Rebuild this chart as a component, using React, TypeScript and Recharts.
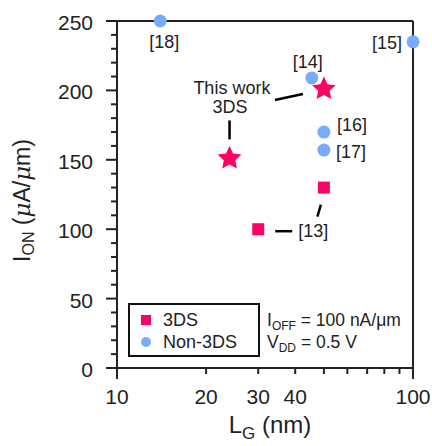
import { ScatterChart, Scatter, XAxis, YAxis, Legend, Label } from "recharts";

// gate length (nm) ticks, log axis
const lgTicks = [10, 20, 30, 40, 50, 60, 70, 80, 90, 100];
const lgLabels = [10, 20, 30, 40, 100];
// on-current ticks
const ionTicks = [0, 10, 20, 30, 40, 50, 60, 70, 80, 90, 100, 110, 120, 130, 140, 150, 160, 170, 180, 190, 200, 210, 220, 230, 240, 250];

// non-3DS literature points
const refLg = [14, 100, 45.5, 50, 50];
const refIon = [250, 235, 209, 170, 157];
const refNames = ["[18]", "[15]", "[14]", "[16]", "[17]"];

// 3DS literature points ([13])
const dsLg = [30, 50];
const dsIon = [100, 130];

// this work
const workLg = [24, 50];
const workIon = [151, 201];

const INK = "#222";
const PINK = "#ff0066";
const BLUE = "#78aaff";
const FONT = "'Liberation Sans', Arial, sans-serif";

const refPoints = refLg.map((lg, i) => ({ lg, ion: refIon[i], ref: refNames[i] }));
const dsPoints = dsLg.map((lg, i) => ({ lg, ion: dsIon[i], i }));
const workPoints = workLg.map((lg, i) => ({ lg, ion: workIon[i], i }));

// label placement, pixels from the marker
const refOffsets: Record<string, [number, number, string]> = {
  "[18]": [4, 21, "middle"],
  "[15]": [-11, 1, "end"],
  "[14]": [-4, -16, "middle"],
  "[16]": [13, -7, "start"],
  "[17]": [12, 2, "start"],
};

function RefDot({ cx, cy, payload }: any) {
  const [dx, dy, anchor] = refOffsets[payload.ref];
  return (
    <g>
      <circle cx={cx} cy={cy} r={6.5} fill={BLUE} />
      <text x={cx + dx} y={cy + dy} textAnchor={anchor as any} dominantBaseline="central" fontSize={18} fill={INK}>
        {payload.ref}
      </text>
    </g>
  );
}

function DsSquare({ cx, cy, payload }: any) {
  return (
    <g>
      <rect x={cx - 6} y={cy - 6} width={12} height={12} fill={PINK} />
      {payload.i === 0 ? (
        <>
          <line x1={cx + 17} y1={cy + 2} x2={cx + 34} y2={cy + 2} stroke="#000" strokeWidth={2.5} />
          <text x={cx + 40} y={cy + 2} dominantBaseline="central" fontSize={18} fill={INK}>[13]</text>
        </>
      ) : (
        <line x1={cx - 3} y1={cy + 17} x2={cx - 6.5} y2={cy + 29} stroke="#000" strokeWidth={2.5} />
      )}
    </g>
  );
}

function starPoints(cx: number, cy: number, R: number, r: number) {
  const pts: string[] = [];
  for (let k = 0; k < 10; k++) {
    const rad = k % 2 === 0 ? R : r;
    const a = -Math.PI / 2 + (k * Math.PI) / 5;
    pts.push(`${cx + rad * Math.cos(a)},${cy + rad * Math.sin(a)}`);
  }
  return pts.join(" ");
}

function WorkStar({ cx, cy, payload }: any) {
  return (
    <g>
      <polygon points={starPoints(cx, cy, 12.5, 6)} fill={PINK} />
      {payload.i === 0 ? (
        <line x1={cx} y1={cy - 38} x2={cx} y2={cy - 19} stroke="#000" strokeWidth={2.5} />
      ) : (
        <>
          <line x1={cx - 49} y1={cy + 11} x2={cx - 21} y2={cy + 5} stroke="#000" strokeWidth={2.5} />
          <text x={cx - 92} y={cy - 1} textAnchor="middle" dominantBaseline="central" fontSize={18} fill={INK}>This work</text>
          <text x={cx - 94} y={cy + 18} textAnchor="middle" dominantBaseline="central" fontSize={18} fill={INK}>3DS</text>
        </>
      )}
    </g>
  );
}

const BottomTick = ({ x, y, payload }: any) => {
  const v = payload.value;
  const major = v === 10 || v === 100;
  return (
    <g>
      <line x1={x} x2={x} y1={y} y2={y + (major ? 11 : 6)} stroke={INK} strokeWidth={2} />
      {lgLabels.includes(v) && (
        <text x={x} y={y + 36} textAnchor="middle" fontSize={21} fill={INK}>{v}</text>
      )}
    </g>
  );
};

const TopTick = ({ x, y, payload }: any) => {
  const major = payload.value === 10 || payload.value === 100;
  return <line x1={x} x2={x} y1={y} y2={y - (major ? 11 : 6)} stroke={INK} strokeWidth={2} />;
};

const LeftTick = ({ x, y, payload }: any) => {
  const v = payload.value;
  const major = v % 50 === 0;
  return (
    <g>
      <line x1={x - (major ? 11 : 6)} x2={x} y1={y} y2={y} stroke={INK} strokeWidth={2} />
      {major && (
        <text x={x - 24} y={y + 9} textAnchor="end" fontSize={21} fill={INK}>{v}</text>
      )}
    </g>
  );
};

const RightTick = ({ x, y, payload }: any) => {
  const major = payload.value % 50 === 0;
  return <line x1={x} x2={x + (major ? 11 : 6)} y1={y} y2={y} stroke={INK} strokeWidth={2} />;
};

const XTitle = ({ viewBox }: any) => {
  const cx = viewBox.x + viewBox.width / 2 + 5;
  return (
    <text x={cx} y={viewBox.y + 65} textAnchor="middle" fontSize={24} fill={INK}>
      L<tspan fontSize={17} dy={6}>G</tspan>
      <tspan dy={-6}> (nm)</tspan>
    </text>
  );
};

const YTitle = ({ viewBox }: any) => {
  const cx = 22;
  const cy = viewBox.y + viewBox.height / 2 + 6;
  return (
    <text x={cx} y={cy} transform={`rotate(-90 ${cx} ${cy})`} textAnchor="middle" dominantBaseline="central" fontSize={23} fill={INK}>
      I<tspan fontSize={16} dy={6}>ON</tspan>
      <tspan dy={-6}> (</tspan>
      <tspan fontStyle="italic" fontFamily="'DejaVu Serif', serif">μ</tspan>
      <tspan>A/</tspan>
      <tspan fontStyle="italic" fontFamily="'DejaVu Serif', serif">μ</tspan>
      <tspan>m)</tspan>
    </text>
  );
};

const LegendBox = () => (
  <div style={{ position: "relative", width: 300, height: 54, fontFamily: FONT, color: INK, fontSize: 18, lineHeight: "20px" }}>
    <div style={{ position: "absolute", left: 0, top: 0, width: 132, height: 54, boxSizing: "border-box", border: "2px solid #111" }} />
    <div style={{ position: "absolute", left: 13, top: 12, width: 10, height: 10, background: PINK }} />
    <div style={{ position: "absolute", left: 13, top: 34, width: 10, height: 10, borderRadius: "50%", background: BLUE }} />
    <div style={{ position: "absolute", left: 35, top: 7 }}>3DS</div>
    <div style={{ position: "absolute", left: 35, top: 29 }}>Non-3DS</div>
    <div style={{ position: "absolute", left: 139, top: 7, fontSize: 17.5, whiteSpace: "nowrap" }}>
      I<span style={{ fontSize: 12, verticalAlign: -4, lineHeight: 1 }}>OFF</span> = 100 nA/μm
    </div>
    <div style={{ position: "absolute", left: 139, top: 29, fontSize: 17.5, whiteSpace: "nowrap" }}>
      V<span style={{ fontSize: 12, verticalAlign: -4, lineHeight: 1 }}>DD</span> = 0.5 V
    </div>
  </div>
);

export default function App() {
  return (
    <div style={{ position: "absolute", left: 0, top: 0, fontFamily: FONT }}>
      <ScatterChart width={432} height={446} margin={{ top: 0, right: 0, bottom: 0, left: 0 }}>
        <XAxis
          dataKey="lg"
          type="number"
          scale="log"
          domain={[10, 100]}
          ticks={lgTicks}
          interval={0}
          height={78}
          tickSize={0}
          tickMargin={0}
          tick={BottomTick}
          axisLine={{ stroke: INK, strokeWidth: 2 }}
        >
          <Label content={XTitle} />
        </XAxis>
        <XAxis
          xAxisId="top"
          orientation="top"
          dataKey="lg"
          type="number"
          scale="log"
          domain={[10, 100]}
          ticks={lgTicks}
          interval={0}
          height={21}
          tickSize={0}
          tickMargin={0}
          tick={TopTick}
          axisLine={{ stroke: INK, strokeWidth: 2 }}
        />
        <YAxis
          dataKey="ion"
          type="number"
          domain={[0, 250]}
          ticks={ionTicks}
          interval={0}
          width={117}
          tickSize={0}
          tickMargin={0}
          tick={LeftTick}
          axisLine={{ stroke: INK, strokeWidth: 2 }}
        >
          <Label content={YTitle} />
        </YAxis>
        <YAxis
          yAxisId="right"
          orientation="right"
          dataKey="ion"
          type="number"
          domain={[0, 250]}
          ticks={ionTicks}
          interval={0}
          width={19}
          tickSize={0}
          tickMargin={0}
          tick={RightTick}
          axisLine={{ stroke: INK, strokeWidth: 2 }}
        />
        <Legend
          layout="horizontal"
          verticalAlign="middle"
          align="center"
          wrapperStyle={{ left: 128, top: 303, width: 300, height: 54 }}
          content={LegendBox}
        />
        <Scatter name="Non-3DS" data={refPoints} dataKey="ion" fill={BLUE} shape={RefDot} isAnimationActive={false} />
        <Scatter name="3DS" data={dsPoints} dataKey="ion" fill={PINK} shape={DsSquare} isAnimationActive={false} />
        <Scatter name="This work" data={workPoints} dataKey="ion" fill={PINK} shape={WorkStar} legendType="none" isAnimationActive={false} />
      </ScatterChart>
    </div>
  );
}
